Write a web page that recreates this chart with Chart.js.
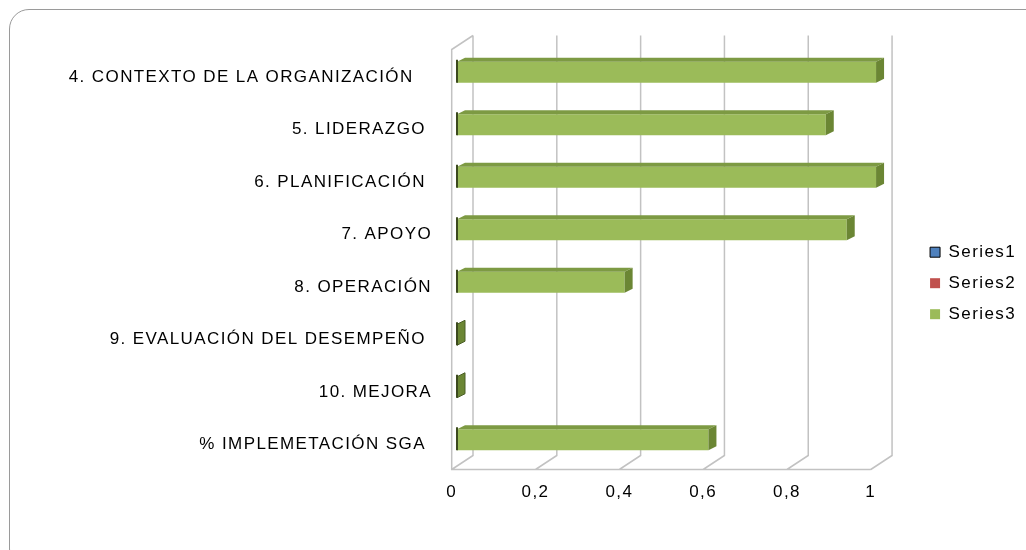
<!DOCTYPE html>
<html lang="es">
<head>
  <meta charset="UTF-8">
  <title>Implementación SGA</title>
  <style>
    html, body { margin: 0; padding: 0; background: #fff; }
    #wrap { position: relative; width: 1026px; height: 550px; overflow: hidden; }
    #frame {
      position: absolute; left: 9px; top: 9px; width: 1040px; height: 560px;
      border: 1.5px solid #9a9a9a; border-radius: 20px; box-sizing: border-box;
    }
    canvas { position: absolute; left: 0; top: 0; }
  </style>
  <script src="https://cdn.jsdelivr.net/npm/chart.js"></script>
</head>
<body>
<div id="wrap">
  <div id="frame"></div>
  <canvas id="chart" width="1026" height="550"></canvas>
</div>
<script>
  const categories = [
    '4. CONTEXTO DE LA ORGANIZACIÓN   ',
    '5. LIDERAZGO ',
    '6. PLANIFICACIÓN ',
    '7. APOYO',
    '8. OPERACIÓN',
    '9. EVALUACIÓN DEL DESEMPEÑO ',
    '10. MEJORA',
    '% IMPLEMETACIÓN SGA '
  ];
  const series1 = [null, null, null, null, null, null, null, null];
  const series2 = [null, null, null, null, null, null, null, null];
  const series3 = [1, 0.88, 1, 0.93, 0.4, 0, 0, 0.6];
  const xTickLabels = ['0', '0,2', '0,4', '0,6', '0,8', '1'];

  const FONT = { family: '"Liberation Sans", Arial, sans-serif', size: 17 };

  // offsets used for the fake 3D look
  const back = { dx: 16, dy: -10.5 };
  const front = { dx: -5.3, dy: 3.5 };
  const bar3d = { dx: 8, dy: -4 };

  function spacing(chart) { chart.ctx.letterSpacing = '1.4px'; }

  const threeD = {
    id: 'threeD',
    beforeUpdate: spacing,
    beforeLayout: spacing,
    beforeDraw: spacing,
    beforeDatasetsDraw(chart) {
      const { ctx, chartArea: a, scales: { x } } = chart;
      ctx.save();
      ctx.strokeStyle = '#c2c2c2';
      ctx.lineWidth = 1.5;
      ctx.beginPath();
      for (let i = 0; i < xTickLabels.length; i++) {
        const px = x.getPixelForValue(i * 0.2);
        ctx.moveTo(px + back.dx, a.top + back.dy);
        ctx.lineTo(px + back.dx, a.bottom + back.dy);
        ctx.lineTo(px + front.dx, a.bottom + front.dy);
      }
      // left wall + front floor edge
      ctx.moveTo(a.left + back.dx, a.top + back.dy);
      ctx.lineTo(a.left + front.dx, a.top + front.dy);
      ctx.lineTo(a.left + front.dx, a.bottom + front.dy);
      ctx.lineTo(x.getPixelForValue(1) + front.dx, a.bottom + front.dy);
      ctx.stroke();
      ctx.restore();
    },
    afterDatasetsDraw(chart) {
      const { ctx } = chart;
      ctx.save();
      chart.data.datasets.forEach((ds, di) => {
        const meta = chart.getDatasetMeta(di);
        meta.data.forEach((el, i) => {
          if (ds.data[i] == null) return;
          const t = el.y - el.height / 2, b = el.y + el.height / 2;
          const l = el.base, r = el.x;
          ctx.lineWidth = 1;
          ctx.strokeStyle = '#4a5e26';
          // top face
          if (r - l > 0.5) {
            ctx.beginPath();
            ctx.moveTo(l, t);
            ctx.lineTo(r, t);
            ctx.lineTo(r + bar3d.dx, t + bar3d.dy);
            ctx.lineTo(l + bar3d.dx, t + bar3d.dy);
            ctx.closePath();
            ctx.fillStyle = '#7d9a43';
            ctx.fill();
          }
          // end face
          ctx.beginPath();
          ctx.moveTo(r, t);
          ctx.lineTo(r + bar3d.dx, t + bar3d.dy);
          ctx.lineTo(r + bar3d.dx, b + bar3d.dy);
          ctx.lineTo(r, b);
          ctx.closePath();
          ctx.fillStyle = '#6b8634';
          ctx.fill();
          if (r - l <= 0.5) ctx.stroke();
          // dark left edge
          ctx.beginPath();
          ctx.moveTo(l, t + bar3d.dy * 0.5);
          ctx.lineTo(l, b);
          ctx.lineWidth = 2;
          ctx.strokeStyle = '#3c4a1e';
          ctx.stroke();
        });
      });
      ctx.restore();
    }
  };

  new Chart(document.getElementById('chart'), {
    type: 'bar',
    data: {
      labels: categories,
      datasets: [
        { label: 'Series1', data: series1, backgroundColor: '#4F81BD', borderColor: '#000', borderWidth: 1 },
        { label: 'Series2', data: series2, backgroundColor: '#C0504D', borderWidth: 0 },
        { label: 'Series3', data: series3, backgroundColor: '#9BBB59', borderWidth: 0 }
      ]
    },
    plugins: [threeD],
    options: {
      indexAxis: 'y',
      responsive: false,
      animation: false,
      grouped: false,
      barPercentage: 0.4,
      categoryPercentage: 1,
      layout: { padding: { top: 46, left: 0, right: 0, bottom: 0 } },
      scales: {
        x: {
          min: 0, max: 1,
          border: { display: false },
          grid: { display: false, drawTicks: false },
          ticks: {
            stepSize: 0.2,
            padding: 16,
            labelOffset: front.dx,
            color: '#000',
            font: FONT,
            callback: (v, i) => xTickLabels[i]
          },
          afterFit: s => { s.height = 84; }
        },
        y: {
          border: { display: false },
          grid: { display: false, drawTicks: false },
          ticks: { padding: 25, labelOffset: 5, color: '#000', font: FONT, autoSkip: false },
          afterFit: s => { s.width = 457; }
        },
        // empty spacer between the plot and the legend
        gap: {
          type: 'linear',
          position: 'right',
          border: { display: false },
          grid: { display: false, drawTicks: false },
          ticks: { display: false },
          afterFit: s => { s.width = 40; }
        }
      },
      plugins: {
        tooltip: { enabled: false },
        legend: {
          position: 'right',
          align: 'center',
          fullSize: false,
          title: { display: true, text: ' ', padding: 17, font: FONT },
          labels: { color: '#000', font: FONT, boxWidth: 10, boxHeight: 10, padding: 14 }
        }
      }
    }
  });
</script>
</body>
</html>
